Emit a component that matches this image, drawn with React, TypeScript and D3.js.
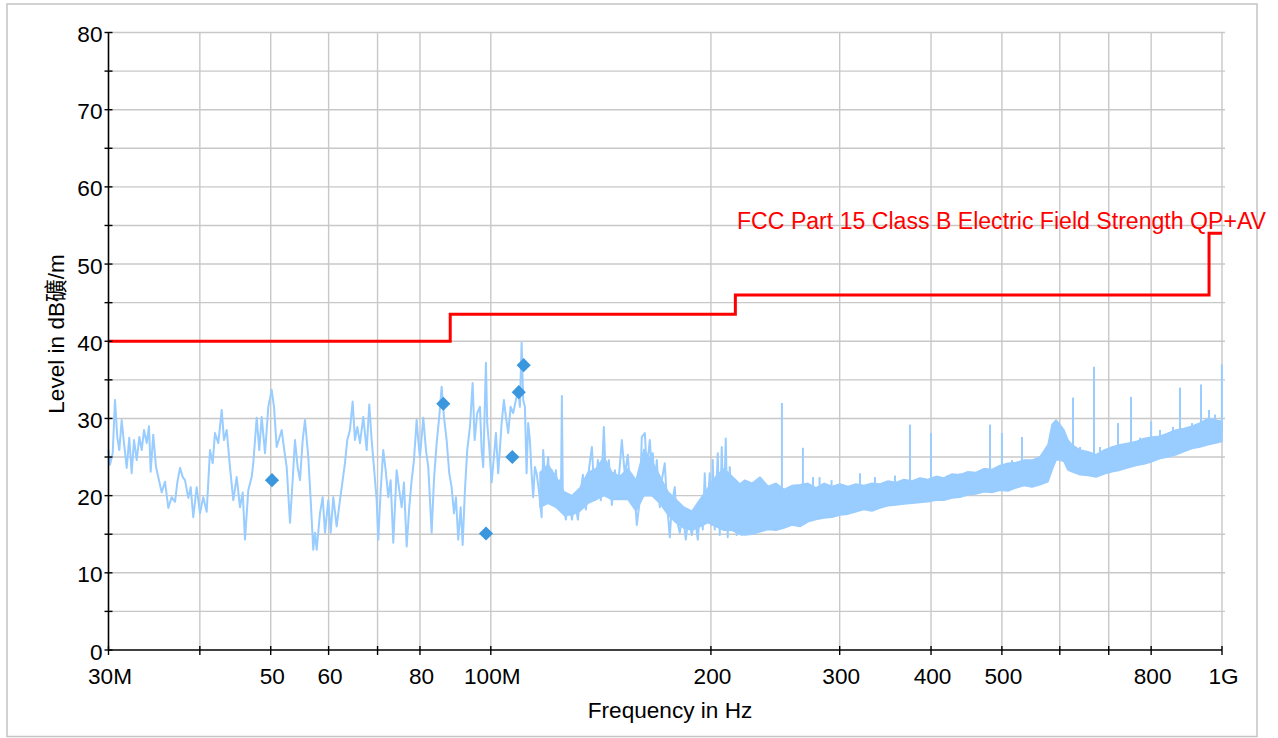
import React from 'react';
import * as d3 from 'd3';

const W = 1278;
const H = 738;
const PLOT = { left: 108.5, right: 1222, top: 32.5, bottom: 650 };
const FONT = '"Liberation Sans", Arial, "Noto Sans CJK SC", sans-serif';

// axis definitions
const xTickMHz = [30, 40, 50, 60, 70, 80, 100, 200, 300, 400, 500, 600, 700, 800, 1000];
const xTickText = ['30M', '', '50', '60', '', '80', '100M', '200', '300', '400', '500', '', '', '800', '1G'];
const xGridMHz = [40, 50, 60, 70, 80, 100, 200, 300, 400, 500, 600, 700, 800, 1000];
const yTickDb = [0, 5, 10, 15, 20, 25, 30, 35, 40, 45, 50, 55, 60, 65, 70, 75, 80];
const yTickText = ['0', '', '10', '', '20', '', '30', '', '40', '', '50', '', '60', '', '70', '', '80'];

// limit line: FCC Part 15 Class B
const limitMHz = [30, 88, 88, 216, 216, 960, 960, 1000];
const limitDb = [40, 40, 43.5, 43.5, 46, 46, 54, 54];
const limitName = 'FCC Part 15 Class B Electric Field Strength QP+AV';

// measured sweep [MHz, dB]
const sweep30to60: [number, number][] = [
  [30.0, 25.9], [30.14, 24.0], [30.4, 25.5], [30.62, 32.4], [30.84, 27.6], [31.04, 25.9], [31.27, 29.8], [31.5, 26.8],
  [31.77, 23.6], [32.03, 27.5], [32.27, 22.9], [32.51, 27.2], [32.79, 24.6], [33.06, 27.6], [33.31, 25.9], [33.55, 28.5],
  [33.84, 26.8], [34.08, 29.0], [34.26, 23.1], [34.54, 27.9], [34.84, 23.7], [35.17, 22.0], [35.47, 20.4], [35.84, 21.8],
  [36.22, 18.4], [36.61, 19.8], [36.99, 19.2], [37.26, 21.7], [37.58, 23.6], [37.9, 22.4], [38.17, 22.0], [38.57, 19.7],
  [38.86, 21.1], [39.18, 17.2], [39.6, 21.1], [40.02, 17.7], [40.43, 19.8], [40.87, 17.9], [41.3, 25.9], [41.65, 24.2],
  [41.95, 28.1], [42.39, 26.8], [42.85, 31.1], [43.16, 27.2], [43.53, 28.5], [43.98, 23.7], [44.44, 19.4], [44.92, 22.4],
  [45.39, 18.5], [45.78, 20.4], [46.11, 14.3], [46.59, 20.7], [47.09, 22.4], [47.33, 24.2], [47.84, 30.1], [48.23, 25.9],
  [48.6, 30.2], [49.11, 25.5], [49.62, 31.5], [50.15, 33.7], [50.52, 31.5], [50.95, 26.3], [51.76, 28.5], [52.18, 25.9],
  [52.58, 23.7], [53.13, 16.5], [53.58, 22.0], [53.97, 27.2], [54.43, 23.7], [54.83, 22.0], [55.3, 27.2], [55.7, 29.8],
  [56.28, 25.0], [56.71, 19.4], [57.17, 13.0], [57.48, 15.2], [57.79, 13.0], [58.39, 17.7], [58.89, 19.8], [59.32, 15.2],
  [59.94, 19.4],
];
const sweep60to100: [number, number][] = [
  [60.39, 15.2], [60.89, 19.8], [61.54, 16.0], [62.18, 19.4], [62.72, 22.0], [63.17, 24.2], [63.63, 27.2], [64.17, 28.5],
  [64.72, 32.2], [65.19, 27.2], [65.67, 28.9], [66.23, 26.8], [66.92, 30.2], [67.64, 25.9], [68.2, 31.8], [68.71, 27.2],
  [69.21, 23.7], [69.8, 19.4], [70.16, 14.3], [70.69, 20.7], [71.27, 25.9], [71.88, 22.9], [72.4, 19.8], [72.95, 22.0],
  [73.55, 13.9], [74.34, 23.3], [74.95, 20.7], [75.52, 18.5], [76.07, 21.7], [76.72, 13.4], [77.35, 18.5], [77.94, 22.0],
  [78.5, 24.6], [79.17, 29.8], [79.57, 27.2], [80.0, 25.0], [80.84, 30.1], [81.53, 25.9], [82.12, 23.7], [83.0, 15.2],
  [83.6, 22.0], [84.32, 26.8], [85.01, 30.2], [85.65, 34.1], [86.28, 30.2], [87.01, 27.2], [87.73, 22.9], [88.39, 21.1],
  [89.04, 17.7], [89.6, 19.8], [90.25, 14.3], [90.94, 18.5], [91.51, 13.6], [92.17, 20.7], [92.84, 25.9], [93.64, 28.9],
  [94.43, 34.6], [95.03, 27.2], [95.81, 30.7], [96.63, 31.5], [97.15, 25.9], [97.64, 23.7], [98.47, 37.2], [98.87, 29.4],
  [99.5, 26.3],
];
const sweep100to150: [number, number][] = [
  [100.25, 21.7], [100.98, 25.0], [101.62, 28.1], [102.36, 22.9], [103.46, 29.4], [104.21, 32.4], [104.87, 30.2], [105.63, 28.1],
  [106.43, 31.5], [107.3, 30.7], [108.22, 32.4], [109.01, 33.7], [109.59, 31.5], [110.18, 39.8], [110.73, 32.4], [111.33, 31.5],
  [111.92, 22.9], [112.49, 29.4], [113.09, 27.2], [113.7, 22.9], [114.27, 19.8], [114.89, 23.7], [115.5, 22.9], [116.45, 20.4],
  [117.34, 17.2], [117.93, 25.9], [118.82, 21.1], [119.8, 25.0], [120.44, 20.1], [121.21, 23.3], [121.97, 18.8], [122.74, 23.3],
  [123.52, 19.4], [124.3, 22.0], [124.69, 18.2], [125.08, 32.9], [125.48, 18.8], [126.67, 16.9], [127.87, 20.1], [129.08, 16.9],
  [130.31, 19.4], [131.54, 16.9], [132.79, 20.7], [133.63, 22.7], [134.89, 18.2], [136.17, 23.3], [137.47, 26.3], [138.77, 19.4],
  [140.08, 24.6], [141.41, 19.4], [142.75, 28.9], [143.65, 22.0], [145.02, 24.6], [146.39, 18.8], [147.78, 23.3], [149.18, 20.7],
];
const sweep150to225: [number, number][] = [
  [151.07, 27.2], [152.5, 22.7], [153.95, 25.3], [155.41, 19.4], [156.88, 22.0], [158.37, 16.2], [159.87, 19.4], [160.88, 27.6],
  [162.41, 28.1], [163.43, 23.3], [164.98, 27.2], [166.02, 23.3], [166.54, 25.5], [167.6, 20.7], [168.65, 24.6], [170.25, 18.5],
  [171.33, 22.0], [172.95, 24.2], [174.05, 19.4], [175.7, 14.6], [176.81, 18.8], [178.48, 21.1], [179.61, 16.9], [181.31, 15.2],
  [183.03, 17.7], [184.77, 14.3], [186.52, 17.5], [188.29, 14.9], [190.07, 17.5], [191.88, 14.3], [193.7, 19.4], [194.92, 15.6],
  [196.15, 22.9], [197.39, 16.9], [199.26, 22.9], [200.52, 16.2], [201.15, 24.6], [202.42, 15.6], [204.34, 25.5], [205.63, 14.9],
  [206.93, 26.3], [208.23, 16.9], [209.55, 27.4], [210.87, 14.6], [212.2, 23.7], [214.21, 16.0], [215.56, 22.0], [216.92, 14.9],
  [218.98, 20.7], [220.36, 14.9], [222.45, 20.1],
];

// dense noise floor above ~116 MHz: envelope (low / high)
const floorMHz = [116.74, 119.72, 122.77, 125.91, 129.12, 132.42, 135.8, 139.26, 142.81, 146.46, 150.2, 154.03, 157.96,
  161.99, 166.12, 170.36, 174.71, 179.17, 183.73, 188.42, 193.23, 198.16, 203.21, 208.4, 213.72, 219.17,
  222.5, 227.6, 233.4, 239.4, 245.5, 251.7, 258.1, 264.7, 271.5, 278.4, 285.5, 292.8, 300.3, 307.9, 315.8, 323.8,
  332.1, 340.6, 349.3, 358.2, 367.3, 376.7, 386.3, 396.2, 406.3, 416.6, 427.3, 438.2, 449.4, 460.8, 472.6, 484.6, 497.0, 509.7,
  522.7, 536.0, 549.7, 563.7, 578.1, 585.5, 592.9, 600.4, 608.0, 615.7, 623.5, 639.5, 655.8, 672.5, 689.6, 707.2, 725.3, 743.8,
  762.8, 782.2, 802.2, 822.6, 843.6, 865.1, 887.2, 909.8, 933.0, 956.8, 981.2, 1000];
const floorLowDb = [18.5, 19.0, 18.5, 17.5, 17.5, 18.0, 19.0, 19.5, 20.0, 19.5, 19.5, 19.5, 18.0,
  20.0, 20.0, 19.0, 17.5, 16.5, 15.8, 15.5, 16.0, 16.5, 16.0, 15.5, 15.5, 15.0,
  14.9, 15.0, 15.3, 15.6, 15.5, 15.8, 16.2, 16.0, 16.6, 16.9, 17.1, 17.2, 17.5, 17.6, 17.9, 18.2,
  18.0, 18.4, 18.7, 18.8, 18.9, 19.0, 19.1, 19.2, 19.4, 19.4, 19.7, 19.8, 20.1, 20.2, 20.5, 20.4, 20.7, 20.6,
  21.0, 21.3, 21.1, 21.4, 21.8, 23.3, 24.6, 24.6, 24.4, 23.3, 23.1, 22.7, 22.6, 22.4, 22.8, 23.1, 23.3, 23.6,
  23.9, 24.1, 24.4, 24.8, 25.0, 25.3, 25.7, 26.1, 26.3, 26.6, 26.8, 27.0];
const floorHighDb = [23.0, 24.0, 22.5, 20.5, 20.0, 21.0, 23.0, 23.5, 25.0, 23.0, 22.5, 23.5, 22.0,
  26.0, 24.5, 22.5, 20.5, 19.5, 18.5, 18.0, 19.5, 21.0, 22.5, 23.5, 22.5, 21.5,
  22.0, 21.6, 22.4, 21.2, 21.6, 20.8, 21.3, 21.4, 21.6, 21.0, 21.6, 21.2, 21.5, 21.2, 21.5, 21.3,
  21.6, 21.5, 21.9, 21.7, 22.1, 21.9, 22.3, 22.1, 22.5, 22.3, 22.8, 22.7, 23.1, 23.0, 23.5, 23.4, 23.9, 24.2,
  24.3, 24.6, 24.6, 25.0, 26.6, 29.2, 29.8, 29.2, 28.5, 27.2, 26.6, 25.9, 25.7, 25.3, 25.9, 26.3, 26.6, 26.8,
  27.0, 27.4, 27.6, 27.7, 28.1, 28.5, 28.7, 29.0, 29.4, 30.0, 29.8, 29.6];

// narrow-band spikes rising out of the floor
const spikeMHz = [250.1, 267.2, 275.8, 281.6, 292.4, 319.8, 335.3, 357.1, 374.3, 399.9, 420.7, 438.2, 452.4, 481.6,
  500.0, 516.1, 532.7, 551.4, 615.5, 625.5, 639.5, 668.3, 680.8, 720.7, 750.8, 772.6, 800.0, 822.6, 856.8, 876.1,
  909.8, 936.0, 959.9, 978.1, 999.5];
const spikeBaseDb = [19.5, 20.0, 20.0, 20.0, 20.5, 20.5, 20.5, 21.0, 21.0, 21.5, 21.5, 22.0, 22.0, 22.0,
  22.5, 23.0, 23.0, 23.5, 25.0, 24.5, 24.5, 24.0, 24.5, 25.0, 25.0, 25.5, 25.5, 26.0, 26.5, 26.5,
  27.0, 27.5, 28.0, 28.0, 28.0];
const spikePeakDb = [32.0, 26.2, 22.4, 22.4, 22.0, 22.9, 22.4, 22.6, 29.2, 28.1, 22.6, 22.9, 22.6, 29.2,
  28.1, 24.6, 27.6, 24.4, 26.6, 32.7, 26.3, 36.7, 26.3, 29.4, 32.8, 27.5, 29.6, 28.5, 28.9, 34.0,
  29.4, 34.4, 31.1, 30.5, 37.0];

// final (QP) measurement markers
const markerMHz = [50.2, 86.1, 98.5, 107.0, 109.2, 110.9];
const markerDb = [22.0, 31.9, 15.1, 25.0, 33.4, 36.9];

const TRACE = '#99ccff';
const MARK = '#3a96dd';
const RED = '#ff0000';
const GRID = '#c8c8c8';

export default function App() {
  const x = d3.scaleLog().domain([30, 1000]).range([PLOT.left, PLOT.right]);
  const y = d3.scaleLinear().domain([0, 80]).range([PLOT.bottom, PLOT.top]);

  const sweep = [...sweep30to60, ...sweep60to100, ...sweep100to150, ...sweep150to225];
  const line = d3.line<[number, number]>().x((d) => x(d[0])).y((d) => y(d[1]));
  const floorArea = d3
    .area<number>()
    .x((_, i) => x(floorMHz[i]))
    .y0((_, i) => y(floorLowDb[i]))
    .y1((_, i) => y(floorHighDb[i]));
  const limitPts: [number, number][] = limitMHz.map((f, i) => [f, limitDb[i]]);
  const sym = d3.symbol().type(d3.symbolSquare).size(100)();

  return (
    <svg
      width={W}
      height={H}
      style={{ position: 'absolute', left: 0, top: 0, background: '#fff' }}
      fontFamily={FONT}
    >
      <rect x={0} y={0} width={W} height={H} fill="#fff" />
      <rect x={7} y={4} width={1250} height={732.5} fill="none" stroke="#c4c4c4" strokeWidth={1.5} />

      {/* grid */}
      {yTickDb.filter((v) => v > 0).map((v) => (
        <line key={'gy' + v} x1={PLOT.left} x2={PLOT.right + 3} y1={y(v)} y2={y(v)} stroke={GRID} strokeWidth={1.4} />
      ))}
      {xGridMHz.map((f) => (
        <line key={'gx' + f} x1={x(f)} x2={x(f)} y1={PLOT.top} y2={PLOT.bottom} stroke={GRID} strokeWidth={1.4} />
      ))}

      {/* measured trace */}
      <path d={floorArea(floorMHz) || ''} fill={TRACE} stroke={TRACE} strokeWidth={1.5} strokeLinejoin="round" />
      {spikeMHz.map((f, i) => (
        <line key={'sp' + i} x1={x(f)} x2={x(f)} y1={y(spikeBaseDb[i])} y2={y(spikePeakDb[i])} stroke={TRACE} strokeWidth={2} />
      ))}
      <path d={line(sweep) || ''} fill="none" stroke={TRACE} strokeWidth={2} strokeLinejoin="round" />

      {/* limit */}
      <path d={line(limitPts) || ''} fill="none" stroke={RED} strokeWidth={3} />
      <text x={737} y={229} fill={RED} fontSize={23.1}>{limitName}</text>

      {/* markers */}
      {markerMHz.map((f, i) => (
        <path key={'m' + i} d={sym || ''} transform={`translate(${x(f)},${y(markerDb[i])}) rotate(45)`} fill={MARK} />
      ))}

      {/* axes */}
      <line x1={PLOT.left} x2={PLOT.left} y1={PLOT.top} y2={PLOT.bottom} stroke="#000" strokeWidth={1.6} />
      <line x1={PLOT.left} x2={PLOT.right} y1={PLOT.bottom} y2={PLOT.bottom} stroke="#000" strokeWidth={1.6} />
      {yTickDb.map((v, i) => (
        <g key={'yt' + v}>
          <line x1={PLOT.left - 4} x2={PLOT.left + 4} y1={y(v)} y2={y(v)} stroke="#000" strokeWidth={1.4} />
          {yTickText[i] && (
            <text x={PLOT.left - 6} y={y(v) + 9.5} textAnchor="end" fontSize={22.6} fill="#000">
              {yTickText[i]}
            </text>
          )}
        </g>
      ))}
      {xTickMHz.map((f, i) => (
        <g key={'xt' + f}>
          <line x1={x(f)} x2={x(f)} y1={PLOT.bottom - 4} y2={PLOT.bottom + 5} stroke="#000" strokeWidth={1.4} />
          {xTickText[i] && (
            <text x={x(f) + 1.5} y={684} textAnchor="middle" fontSize={22.6} fill="#000">
              {xTickText[i]}
            </text>
          )}
        </g>
      ))}
      <text x={670} y={718} textAnchor="middle" fontSize={22.6} fill="#000">
        Frequency in Hz
      </text>
      <text transform="translate(63.5,334) rotate(-90)" textAnchor="middle" fontSize={22.6} fill="#000">
        Level in dB礦/m
      </text>
    </svg>
  );
}
